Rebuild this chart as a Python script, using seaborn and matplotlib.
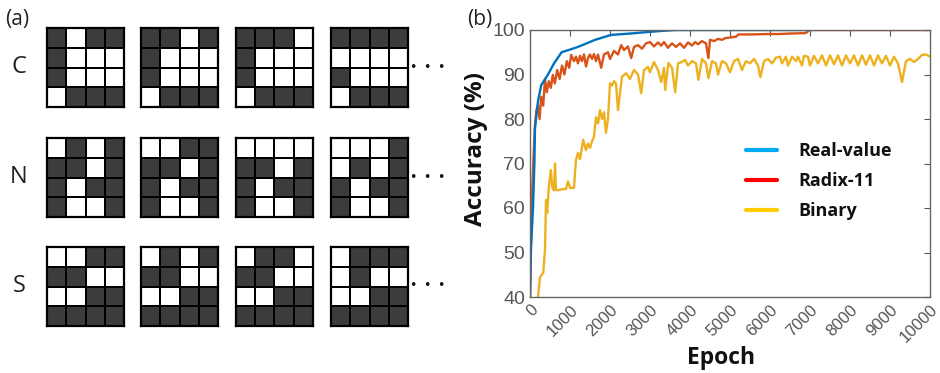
import numpy as np
import pandas as pd
import matplotlib
matplotlib.use("Agg")
import matplotlib.pyplot as plt
import matplotlib.transforms as mtransforms
from matplotlib.colors import ListedColormap
from matplotlib.lines import Line2D
import seaborn as sns

# ---- panel (a): 4x4 pixel patterns, 1 = white, 0 = dark ----
letters = ["C", "N", "S"]
patterns_c = [
    ["0100", "0111", "0111", "1000"],
    ["0010", "0111", "0111", "1000"],
    ["0001", "0111", "0111", "1000"],
    ["0000", "1111", "0111", "1000"],
]
patterns_n = [
    ["1010", "0010", "0100", "0110"],
    ["1100", "0010", "0100", "0110"],
    ["1111", "0010", "0100", "0110"],
    ["1110", "1010", "0100", "0110"],
]
patterns_s = [
    ["1100", "0011", "1100", "0000"],
    ["1010", "0011", "1100", "0000"],
    ["1001", "0011", "1100", "0000"],
    ["1000", "1011", "1100", "0000"],
]

# ---- panel (b): accuracy vs epoch ----
real_epoch = [0, 25, 75, 110, 125, 200, 280, 450, 600, 790, 1000, 1200, 1630,
              2030, 2500, 2880, 3300, 3630, 7000]
real_acc = [40, 51, 60, 70, 78, 84, 87.6, 90, 92.5, 95, 95.6, 96.2, 97.8,
            98.9, 99.2, 99.5, 99.8, 100, 100]

radix_epoch = [0, 30, 60, 90, 120, 160, 200, 240, 280, 330, 375, 420, 470, 520,
               570, 620, 680, 740, 800, 860, 920, 980, 1030, 1100, 1150, 1200,
               1250, 1300, 1350, 1400, 1450, 1500, 1550, 1600, 1650, 1700, 1780,
               1850, 1950, 2000, 2100, 2200, 2280, 2350, 2450, 2530, 2600, 2700,
               2800, 2900, 3000, 3100, 3200, 3280, 3350, 3450, 3550, 3650, 3750,
               3850, 3950, 4050, 4130, 4200, 4300, 4400, 4460, 4500, 4600, 4700,
               4800, 4890, 5000, 5150, 5210, 5500, 6000, 6220, 6500, 6890, 6940,
               6970, 10000]
radix_acc = [40, 55, 65, 72, 78, 82, 83, 80, 85, 83, 89, 86, 88.5, 87,
             89.9, 88, 91, 89, 92, 90, 93, 91.5, 94.4, 93, 94, 92.5,
             94.2, 93, 94.5, 91.8, 93.7, 94.5, 93.5, 94.6, 93, 94.5, 91.5,
             94.5, 95, 93.5, 95.3, 94.5, 96.6, 95.5, 96.3, 93.7, 96.2, 96.6,
             95.8, 97, 97.3, 96.3, 97.2, 96.5, 97.3, 96, 97, 96.2, 97,
             96, 97.2, 96.5, 97.3, 96.8, 97.5, 97, 93.7, 97.8, 97.5, 98,
             97.8, 98.2, 98.3, 98.5, 99, 99, 99.1, 99.1, 99.2, 99.3, 99.6,
             100, 100]

binary_epoch = [200, 250, 330, 375, 400, 430, 470, 520, 560, 600, 625, 650, 700,
                800, 900, 950, 1000, 1100, 1130, 1150, 1200, 1250, 1330, 1400,
                1450, 1500, 1550, 1600, 1650, 1700, 1750, 1800, 1850, 1900, 1950,
                2000, 2050, 2100, 2150, 2200, 2300, 2400, 2500, 2600, 2700, 2780,
                2850, 2950, 3000, 3100, 3200, 3280, 3350, 3380, 3460, 3550, 3630,
                3700, 3790, 3880, 3950, 4050, 4150, 4210, 4300, 4400, 4460, 4550,
                4650, 4700, 4800, 4900, 5000, 5100, 5200, 5300, 5400, 5500, 5600,
                5700, 5760, 5850, 5950, 6050, 6150, 6250, 6300, 6400, 6450, 6550,
                6650, 6700, 6800, 6850, 6950, 7000, 7100, 7200, 7300, 7400, 7500,
                7600, 7700, 7800, 7900, 8000, 8100, 8200, 8300, 8400, 8500, 8600,
                8700, 8800, 8900, 9000, 9100, 9200, 9300, 9400, 9500, 9600, 9700,
                9800, 9900, 10000]
binary_acc = [40, 44.5, 45.4, 50.6, 61.8, 58.9, 64.7, 68.5, 64.5, 64, 70, 64, 64,
              64.2, 64.3, 66, 64.5, 64.5, 68.5, 70.8, 72.4, 71, 75.3, 73,
              74.5, 73.5, 75, 76, 80.4, 79, 82, 80, 81.5, 76.9, 80,
              88, 87.5, 88.5, 88, 82, 89.5, 90.3, 89, 91, 90, 85.8,
              91, 91.7, 90.5, 92.8, 91, 88.3, 91.5, 86.5, 92.6, 91.5, 86,
              92.5, 92.8, 93.3, 92, 93, 92.5, 88.8, 93.5, 92.5, 89.2, 93,
              92.5, 90, 93, 92.5, 90.5, 93, 93.5, 91, 93, 92.5, 93.5,
              92, 89.4, 93, 93.5, 92.5, 93.8, 94, 92.5, 94, 92, 94,
              93, 94, 92, 94.2, 94, 92, 94.2, 92.5, 94.3, 92, 94.3,
              92.3, 94.3, 92, 94.3, 92.5, 94.3, 92, 94.3, 92.2, 94.3, 92,
              94.3, 92.5, 94.2, 92, 94, 92.5, 88.3, 93, 93.5, 92.8, 93.5,
              94.4, 94.5, 94]

W, H = 940, 373
fig = plt.figure(figsize=(W / 100, H / 100), dpi=100)
sns.set_style("white")
plt.rcParams["font.family"] = ["Open Sans", "DejaVu Sans"]


def px_axes(x, y, w, h):
    # place an axes using pixel coordinates measured from the top-left
    return fig.add_axes([x / W, 1 - (y + h) / H, w / W, h / H])


cmap = ListedColormap(["#3c3c3c", "white"])
col_x = [47, 141, 236, 331]
row_y = [28, 138, 247]
for r, (letter, pats) in enumerate(zip(letters, [patterns_c, patterns_n, patterns_s])):
    for c, pat in enumerate(pats):
        grid = np.array([[int(ch) for ch in row] for row in pat])
        ax = px_axes(col_x[c], row_y[r], 77, 79)
        sns.heatmap(grid, ax=ax, cmap=cmap, vmin=0, vmax=1, cbar=False,
                    linewidths=1.3, linecolor="black", xticklabels=False,
                    yticklabels=False)
        for sp in ax.spines.values():
            sp.set_visible(True)
            sp.set_color("black")
            sp.set_linewidth(1.6)
    yc = 1 - (row_y[r] + 39) / H
    fig.text(19 / W, yc, letter, fontsize=17, ha="center", va="center",
             color="#222222")
    for dx in [413, 427, 441]:
        fig.text(dx / W, yc, "\u2022", fontsize=9, ha="center", va="center",
                 color="#111111", family="DejaVu Sans")

fig.text(5 / W, 1 - 19 / H, "(a)", fontsize=15, ha="left", va="center",
         color="#222222")
fig.text(467 / W, 1 - 19 / H, "(b)", fontsize=15, ha="left", va="center",
         color="#222222")

# ---- panel (b) ----
ax = px_axes(530, 30, 400, 267)
df = pd.concat([
    pd.DataFrame({"Epoch": real_epoch, "Accuracy": real_acc, "Type": "Real-value"}),
    pd.DataFrame({"Epoch": radix_epoch, "Accuracy": radix_acc, "Type": "Radix-11"}),
    pd.DataFrame({"Epoch": binary_epoch, "Accuracy": binary_acc, "Type": "Binary"}),
], ignore_index=True)
line_colors = {"Real-value": "#0072BD", "Radix-11": "#D95319", "Binary": "#EDB120"}
for name in ["Binary", "Radix-11", "Real-value"]:
    sub = df[df["Type"] == name]
    sns.lineplot(data=sub, x="Epoch", y="Accuracy", ax=ax, color=line_colors[name],
                 linewidth=1.7, estimator=None, sort=False)

ax.set_xlim(0, 10000)
ax.set_ylim(40, 100)
ax.set_xticks(range(0, 10001, 1000))
ax.set_yticks(range(40, 101, 10))
ax.tick_params(direction="in", top=True, right=True, length=4, width=0.8,
               colors="#555555")
ax.tick_params(axis="y", labelsize=14)
ax.tick_params(axis="x", labelsize=12)
shift = mtransforms.ScaledTranslation(0, 0, fig.dpi_scale_trans)
for lab in ax.get_xticklabels():
    lab.set_fontfamily(["Liberation Sans", "DejaVu Sans"])
    lab.set_rotation(45)
    lab.set_ha("right")
    lab.set_va("top")
    lab.set_rotation_mode("anchor")
    lab.set_transform(lab.get_transform() + shift)
for lab in ax.get_yticklabels():
    lab.set_fontfamily(["Liberation Sans", "DejaVu Sans"])
for sp in ax.spines.values():
    sp.set_color("#666666")
    sp.set_linewidth(1.0)
ax.set_xlabel("Epoch", fontsize=16.5, fontweight="bold", color="#111111")
ax.set_ylabel("Accuracy (%)", fontsize=17.5, fontweight="bold", color="#111111")
ax.xaxis.set_label_coords(0.477, -0.185)
ax.yaxis.set_label_coords(-0.105, 0.554)

legend_colors = ["#00AAF0", "#FF0000", "#FFCC00"]
legend_names = ["Real-value", "Radix-11", "Binary"]
handles = [Line2D([], [], color=c, linewidth=3) for c in legend_colors]
leg = ax.legend(handles, legend_names, loc="upper left", bbox_to_anchor=(0.5, 0.64),
                frameon=False, handlelength=1.7, handletextpad=1.2,
                labelspacing=0.65, prop={"weight": "bold", "size": 13})
for t in leg.get_texts():
    t.set_color("#111111")

fig.savefig("out.png", dpi=100)
